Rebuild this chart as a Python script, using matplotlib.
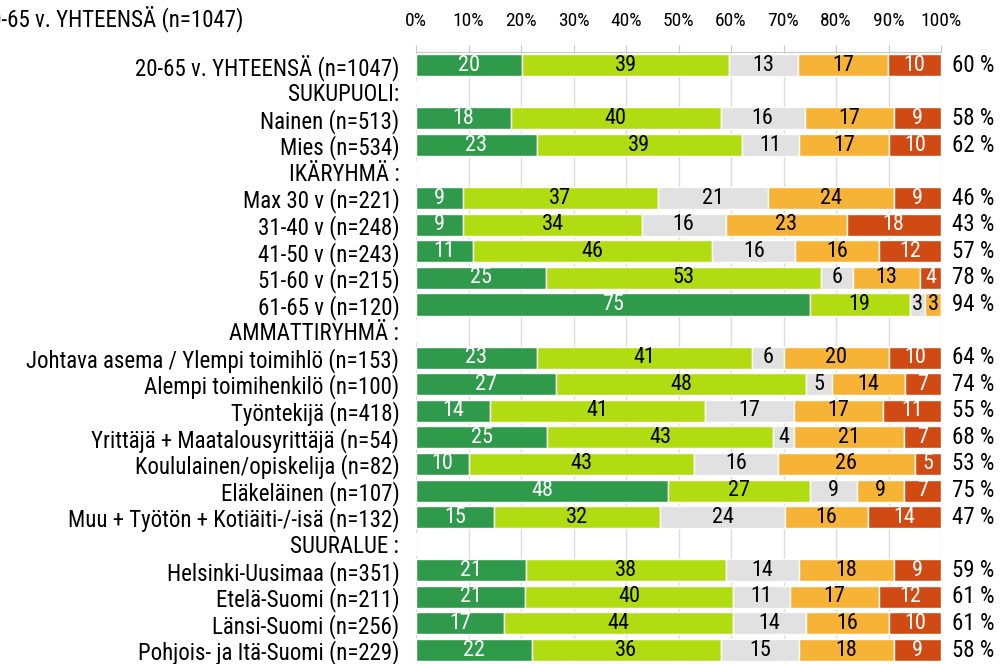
import matplotlib
matplotlib.use("Agg")
import matplotlib.pyplot as plt
import numpy as np

plt.rcParams['font.family'] = ['Roboto Condensed', 'Liberation Sans', 'DejaVu Sans']

labels = ["20-65 v. YHTEENSÄ (n=1047)", "SUKUPUOLI:", "Nainen (n=513)", "Mies (n=534)",
          "IKÄRYHMÄ :", "Max 30 v (n=221)", "31-40 v (n=248)", "41-50 v (n=243)",
          "51-60 v (n=215)", "61-65 v (n=120)", "AMMATTIRYHMÄ :",
          "Johtava asema / Ylempi toimihlö (n=153)", "Alempi toimihenkilö (n=100)",
          "Työntekijä (n=418)", "Yrittäjä + Maatalousyrittäjä (n=54)",
          "Koululainen/opiskelija (n=82)", "Eläkeläinen (n=107)",
          "Muu + Työtön + Kotiäiti-/-isä (n=132)", "SUURALUE :",
          "Helsinki-Uusimaa (n=351)", "Etelä-Suomi (n=211)", "Länsi-Suomi (n=256)",
          "Pohjois- ja Itä-Suomi (n=229)"]
N = None
s1 = [20, N, 18, 23, N, 9, 9, 11, 25, 75, N, 23, 27, 14, 25, 10, 48, 15, N, 21, 21, 17, 22]
s2 = [39, N, 40, 39, N, 37, 34, 46, 53, 19, N, 41, 48, 41, 43, 43, 27, 32, N, 38, 40, 44, 36]
s3 = [13, N, 16, 11, N, 21, 16, 16, 6, 3, N, 6, 5, 17, 4, 16, 9, 24, N, 14, 11, 14, 15]
s4 = [17, N, 17, 17, N, 24, 23, 16, 13, 3, N, 20, 14, 17, 21, 26, 9, 16, N, 18, 17, 16, 18]
s5 = [10, N, 9, 10, N, 9, 18, 12, 4, N, N, 10, 7, 11, 7, 5, 7, 14, N, 9, 12, 10, 9]
totals = [60, N, 58, 62, N, 46, 43, 57, 78, 94, N, 64, 74, 55, 68, 53, 75, 47, N, 59, 61, 61, 58]
title = "20-65 v. YHTEENSÄ (n=1047)"
ticks = [0, 10, 20, 30, 40, 50, 60, 70, 80, 90, 100]

colors = ["#2E9A4A", "#B2DC12", "#E1E1E1", "#F6B335", "#D04A14"]
tcolors = ["white", "black", "black", "black", "white"]
series = [s1, s2, s3, s4, s5]

fig = plt.figure(figsize=(10.05, 6.64), dpi=100)
ax = fig.add_axes([416/1005, 0.001, 525/1005, 1 - 52/664 - 0.001])

n = len(labels)
y = np.arange(n)
raw = np.array([[v if v is not None else 0 for v in s] for s in series], dtype=float)
rowsum = raw.sum(axis=0)
rowsum[rowsum == 0] = 1
share = raw / rowsum * 100  # 100 % stacked bars

left = np.zeros(n)
for si, s in enumerate(series):
    w = share[si]
    ax.barh(y, w, left=left, height=0.83, color=colors[si], edgecolor="white",
            linewidth=1.0, zorder=2)
    for i, v in enumerate(s):
        if v:
            ax.text(left[i] + w[i] / 2, y[i], str(v), ha="center", va="center",
                    color=tcolors[si], fontsize=16, zorder=3)
    left = left + w

for i, t in enumerate(totals):
    if t is not None:
        ax.text(102.0, y[i], f"{t} %", ha="left", va="center", fontsize=16.5,
                clip_on=False)

ax.set_xlim(0, 100)
ax.set_ylim(n - 0.5, -0.5)
ax.set_yticks(y)
ax.set_yticklabels(labels, fontsize=16.5)
ax.tick_params(axis="y", length=0, pad=12)
ax.xaxis.tick_top()
ax.set_xticks(ticks)
ax.set_xticklabels([f"{t}%" for t in ticks], fontsize=14)
ax.tick_params(axis="x", direction="out", length=5, color="#C8C8C8", pad=11)
ax.grid(axis="x", color="#DDDDDD", linewidth=1, zorder=0)
for sp in ["right", "bottom", "left"]:
    ax.spines[sp].set_visible(False)
ax.spines["top"].set_color("#C8C8C8")

fig.text(243/1005, 1 - 19/664, title, ha="right", va="center", fontsize=16.5)

fig.savefig("out.png", dpi=100)
